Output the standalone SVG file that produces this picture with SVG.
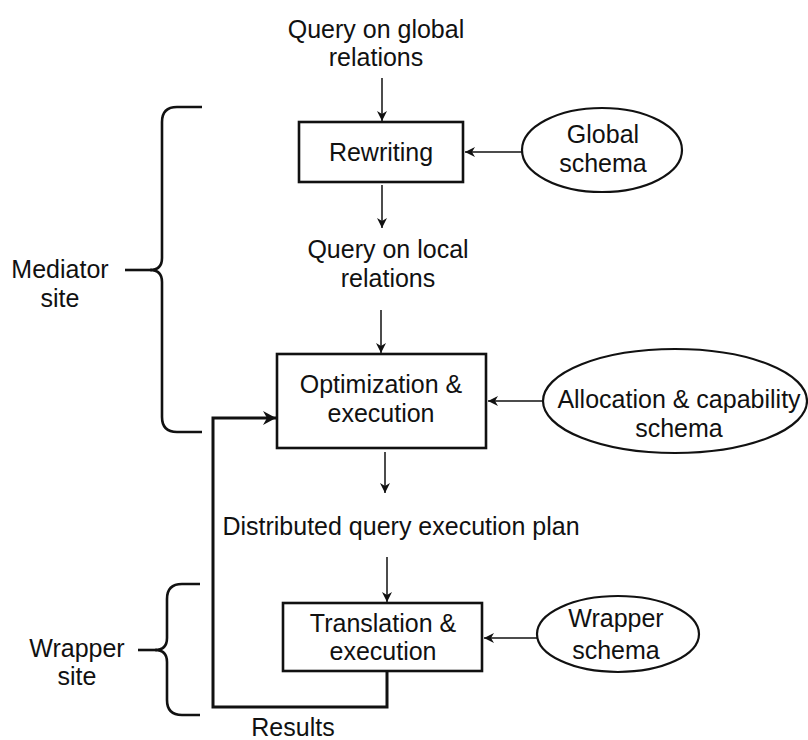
<svg xmlns="http://www.w3.org/2000/svg" width="808" height="740" viewBox="0 0 808 740">
<style>
text{font-family:"Liberation Sans",Arial,Helvetica,sans-serif;font-size:25px;fill:#111;text-anchor:middle}
.box{fill:#fff;stroke:#111;stroke-width:2.6}
.ell{fill:#fff;stroke:#111;stroke-width:2.2}
.arr{fill:none;stroke:#111;stroke-width:1.5;marker-end:url(#ah)}
.brace{fill:none;stroke:#111;stroke-width:2.6}
.fb{fill:none;stroke:#111;stroke-width:3;marker-end:url(#ahb)}
</style>
<defs>
<marker id="ah" markerUnits="userSpaceOnUse" markerWidth="12" markerHeight="12" refX="10" refY="5" orient="auto">
<path d="M0,0 L10,5 L0,10 L3,5 Z" fill="#111"/>
</marker>
<marker id="ahb" markerUnits="userSpaceOnUse" markerWidth="16" markerHeight="16" refX="13" refY="7" orient="auto">
<path d="M0,0 L13,7 L0,14 L4,7 Z" fill="#111"/>
</marker>
</defs>
<rect width="808" height="740" fill="#fff"/>

<g id="input-label">
<text x="376" y="38">Query on global</text>
<text x="376" y="66">relations</text>
</g>

<g id="connectors">
<path class="arr" d="M382,78 V121"/>
<path class="arr" d="M522,152 H465"/>
<path class="arr" d="M382,185 V228"/>
<path class="arr" d="M381,310 V353"/>
<path class="arr" d="M543,401 H488"/>
<path class="arr" d="M385,452 V493"/>
<path class="arr" d="M387,557 V602"/>
<path class="arr" d="M537,638 H484"/>
<path class="fb" d="M387,672 V707 H213 V418 H276"/>
</g>

<g id="rewriting">
<rect class="box" x="299" y="122" width="164" height="60"/>
<text x="381" y="161">Rewriting</text>
</g>

<g id="global-schema">
<ellipse class="ell" cx="602" cy="150" rx="80" ry="42"/>
<text x="603" y="143">Global</text>
<text x="603" y="172">schema</text>
</g>

<g id="local-label">
<text x="388" y="258">Query on local</text>
<text x="388" y="287">relations</text>
</g>

<g id="optimization">
<rect class="box" x="277" y="354" width="209" height="94"/>
<text x="381" y="393">Optimization &amp;</text>
<text x="381" y="422">execution</text>
</g>

<g id="allocation-schema">
<ellipse class="ell" cx="675" cy="401" rx="132" ry="52"/>
<text x="679" y="408">Allocation &amp; capability</text>
<text x="679" y="437">schema</text>
</g>

<g id="plan-label">
<text x="401" y="535">Distributed query execution plan</text>
</g>

<g id="translation">
<rect class="box" x="283" y="603" width="199" height="68"/>
<text x="383" y="632">Translation &amp;</text>
<text x="383" y="660">execution</text>
</g>

<g id="wrapper-schema">
<ellipse class="ell" cx="618" cy="634" rx="81" ry="38"/>
<text x="616" y="627">Wrapper</text>
<text x="616" y="659">schema</text>
</g>

<g id="results-label">
<text x="293" y="736">Results</text>
</g>

<g id="mediator-site">
<path class="brace" d="M202,107 H177 Q162,107 162,122 V258 Q162,270 150,270 Q162,270 162,282 V417 Q162,432 177,432 H202"/>
<path class="brace" d="M125,270 H152"/>
<text x="60" y="278">Mediator</text>
<text x="60" y="307">site</text>
</g>

<g id="wrapper-site">
<path class="brace" d="M200,584 H182 Q167,584 167,599 V638 Q167,650 155,650 Q167,650 167,662 V700 Q167,715 182,715 H200"/>
<path class="brace" d="M138,650 H157"/>
<text x="77" y="657">Wrapper</text>
<text x="77" y="685">site</text>
</g>
</svg>
